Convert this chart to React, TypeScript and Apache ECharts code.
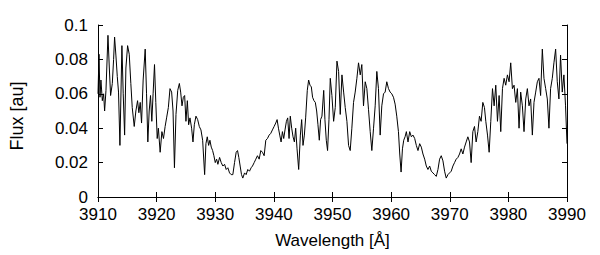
import React, { useEffect, useRef } from "react";
import * as echarts from "echarts";

const wavelength = [
  3910.0, 3910.17, 3910.34, 3910.5, 3910.74, 3910.96, 3911.13, 3911.36, 3911.7, 3911.93,
  3912.15, 3912.44, 3912.66, 3912.83, 3913.06, 3913.29, 3913.5, 3913.74, 3914.08, 3914.3,
  3914.54, 3914.76, 3915.05, 3915.33, 3915.6, 3915.84, 3916.18, 3916.46, 3916.75, 3916.97,
  3917.2, 3917.43, 3917.7, 3918.05, 3918.28, 3918.5, 3918.73, 3918.96, 3919.18, 3919.4,
  3919.64, 3919.86, 3920.1, 3920.3, 3920.6, 3920.9, 3921.17, 3921.45, 3921.7, 3922.0,
  3922.28, 3922.56, 3922.8, 3923.04, 3923.3, 3923.6, 3923.88, 3924.1, 3924.33, 3924.56,
  3924.78, 3925.0, 3925.24, 3925.46, 3925.69, 3925.97, 3926.2, 3926.43, 3926.71, 3927.0,
  3927.28, 3927.56, 3927.85, 3928.19, 3928.41, 3928.64, 3928.87, 3929.09, 3929.32, 3929.55,
  3929.77, 3930.0, 3930.23, 3930.45, 3930.74, 3931.02, 3931.3, 3931.59, 3931.87, 3932.15,
  3932.44, 3932.72, 3933.0, 3933.29, 3933.57, 3933.8, 3934.02, 3934.25, 3934.48, 3934.7,
  3935.0, 3935.27, 3935.55, 3935.84, 3936.12, 3936.35, 3936.64, 3936.92, 3937.2, 3937.49,
  3937.77, 3938.05, 3938.34, 3938.62, 3938.9, 3939.19, 3939.47, 3939.75, 3940.04, 3940.32,
  3940.55, 3940.78, 3941.0, 3941.23, 3941.46, 3941.68, 3941.9, 3942.14, 3942.36, 3942.59,
  3942.8, 3943.04, 3943.27, 3943.5, 3943.72, 3943.95, 3944.23, 3944.52, 3944.74, 3944.97,
  3945.2, 3945.42, 3945.7, 3945.93, 3946.16, 3946.39, 3946.6, 3946.84, 3947.07, 3947.3,
  3947.52, 3947.75, 3947.97, 3948.2, 3948.5, 3948.71, 3948.94, 3949.16, 3949.4, 3949.62,
  3949.9, 3950.19, 3950.47, 3950.76, 3951.04, 3951.32, 3951.61, 3951.9, 3952.17, 3952.46,
  3952.74, 3953.02, 3953.3, 3953.59, 3953.87, 3954.16, 3954.44, 3954.73, 3955.0, 3955.29,
  3955.58, 3955.86, 3956.14, 3956.43, 3956.71, 3957.0, 3957.28, 3957.56, 3957.84, 3958.13,
  3958.41, 3958.7, 3958.98, 3959.26, 3959.55, 3959.83, 3960.11, 3960.4, 3960.68, 3960.96,
  3961.25, 3961.47, 3961.7, 3961.93, 3962.15, 3962.38, 3962.6, 3962.88, 3963.17, 3963.45,
  3963.73, 3964.02, 3964.3, 3964.58, 3964.87, 3965.15, 3965.43, 3965.72, 3966.0, 3966.28,
  3966.57, 3966.85, 3967.13, 3967.42, 3967.7, 3967.99, 3968.27, 3968.55, 3968.84, 3969.12,
  3969.4, 3969.69, 3969.97, 3970.25, 3970.54, 3970.82, 3971.1, 3971.39, 3971.67, 3971.95,
  3972.24, 3972.52, 3972.8, 3973.09, 3973.37, 3973.65, 3973.94, 3974.22, 3974.5, 3974.79,
  3975.07, 3975.35, 3975.64, 3975.92, 3976.15, 3976.44, 3976.72, 3977.0, 3977.29, 3977.57,
  3977.85, 3978.14, 3978.42, 3978.7, 3978.99, 3979.27, 3979.55, 3979.84, 3980.12, 3980.4,
  3980.69, 3980.97, 3981.26, 3981.54, 3981.82, 3982.1, 3982.39, 3982.67, 3982.96, 3983.24,
  3983.52, 3983.8, 3984.09, 3984.37, 3984.66, 3984.94, 3985.22, 3985.5, 3985.79, 3986.07,
  3986.36, 3986.64, 3986.92, 3987.2, 3987.49, 3987.77, 3988.06, 3988.34, 3988.62, 3988.9,
  3989.19, 3989.47, 3989.75, 3990.0,
];

const flux = [
  0.06, 0.083, 0.058, 0.068, 0.056, 0.06, 0.05, 0.062, 0.094, 0.075,
  0.059, 0.066, 0.08, 0.093, 0.082, 0.07, 0.061, 0.03, 0.088, 0.06,
  0.036, 0.075, 0.088, 0.083, 0.066, 0.052, 0.041, 0.05, 0.056, 0.049,
  0.055, 0.043, 0.068, 0.086, 0.06, 0.032, 0.05, 0.059, 0.044, 0.06,
  0.077, 0.055, 0.034, 0.04, 0.026, 0.038, 0.034, 0.041, 0.046, 0.052,
  0.063, 0.061, 0.05, 0.017, 0.048, 0.062, 0.066, 0.061, 0.053, 0.058,
  0.059, 0.044, 0.056, 0.042, 0.046, 0.04, 0.032, 0.042, 0.047, 0.045,
  0.041, 0.039, 0.033, 0.013, 0.031, 0.035, 0.03, 0.033, 0.029, 0.027,
  0.024, 0.02, 0.022, 0.019, 0.023, 0.02, 0.018, 0.019, 0.016, 0.017,
  0.014, 0.013, 0.013, 0.02, 0.026, 0.027, 0.023, 0.018, 0.013, 0.011,
  0.014, 0.013, 0.016, 0.015, 0.017, 0.018, 0.02, 0.022, 0.024, 0.022,
  0.027, 0.026, 0.024, 0.033, 0.034, 0.036, 0.037, 0.039, 0.041, 0.043,
  0.045, 0.04, 0.036, 0.032, 0.038, 0.034, 0.039, 0.044, 0.046, 0.034,
  0.047, 0.04, 0.035, 0.032, 0.04, 0.028, 0.016, 0.036, 0.045, 0.03,
  0.036, 0.046, 0.062, 0.068, 0.065, 0.064, 0.058, 0.056, 0.055, 0.05,
  0.042, 0.033, 0.045, 0.047, 0.062, 0.045, 0.033, 0.027, 0.045, 0.069,
  0.059, 0.044, 0.052, 0.079, 0.073, 0.048, 0.071, 0.061, 0.052, 0.044,
  0.03, 0.027, 0.04, 0.055, 0.061, 0.069, 0.078, 0.071, 0.077, 0.053,
  0.067, 0.063, 0.051, 0.038, 0.027, 0.04, 0.053, 0.073, 0.063, 0.036,
  0.053, 0.06, 0.061, 0.067, 0.063, 0.061, 0.06, 0.058, 0.054, 0.047,
  0.038, 0.025, 0.0145, 0.028, 0.033, 0.035, 0.038, 0.032, 0.038, 0.035,
  0.036, 0.034, 0.03, 0.027, 0.031, 0.029, 0.025, 0.022, 0.018, 0.016,
  0.018, 0.015, 0.014, 0.013, 0.012, 0.016, 0.022, 0.024, 0.021, 0.015,
  0.011, 0.013, 0.014, 0.015, 0.018, 0.02, 0.022, 0.023, 0.025, 0.028,
  0.025, 0.029, 0.032, 0.035, 0.032, 0.02, 0.038, 0.041, 0.032, 0.038,
  0.047, 0.044, 0.055, 0.052, 0.044, 0.036, 0.026, 0.044, 0.063, 0.053,
  0.065, 0.044, 0.059, 0.038, 0.063, 0.069, 0.065, 0.071, 0.067, 0.078,
  0.063, 0.065, 0.055, 0.063, 0.04, 0.061, 0.053, 0.038, 0.057, 0.063,
  0.053, 0.057, 0.036, 0.055, 0.061, 0.067, 0.069, 0.059, 0.086, 0.069,
  0.063, 0.057, 0.04, 0.063, 0.069, 0.078, 0.086, 0.067, 0.057, 0.0825,
  0.061, 0.071, 0.053, 0.031,
];

const xMin = 3910;
const xMax = 3990;
const xStep = 10;
const yMin = 0;
const yMax = 0.1;
const yStep = 0.02;
const xTitle = "Wavelength [Å]";
const yTitle = "Flux [au]";

const FONT = "Liberation Sans";

export default function App() {
  const ref = useRef<HTMLDivElement>(null);
  useEffect(() => {
    if (!ref.current) return;
    const chart = echarts.init(ref.current, null, { renderer: "svg" });
    const data = wavelength.map((w, i) => [w, flux[i]]);
    const tickStyle = { show: true, inside: true, length: 5, lineStyle: { color: "#000", width: 1 } };
    const lineStyle = { show: true, lineStyle: { color: "#000", width: 1 } };
    chart.setOption({
      animation: false,
      backgroundColor: "#fff",
      grid: { left: 97, right: 33, top: 25, bottom: 58, containLabel: false },
      xAxis: [
        {
          type: "value",
          min: xMin,
          max: xMax,
          interval: xStep,
          position: "bottom",
          name: xTitle,
          nameLocation: "middle",
          nameGap: 35,
          nameTextStyle: { fontFamily: FONT, fontSize: 17, color: "#000" },
          axisLine: lineStyle,
          axisTick: tickStyle,
          axisLabel: {
            fontFamily: FONT,
            fontSize: 17,
            color: "#000",
            margin: 9,
            formatter: (v: number) => String(v),
          },
          splitLine: { show: false },
        },
        {
          type: "value",
          min: xMin,
          max: xMax,
          interval: xStep,
          position: "top",
          axisLine: lineStyle,
          axisTick: tickStyle,
          axisLabel: { show: false },
          splitLine: { show: false },
        },
      ],
      yAxis: [
        {
          type: "value",
          min: yMin,
          max: yMax,
          interval: yStep,
          position: "left",
          name: yTitle,
          nameLocation: "middle",
          nameGap: 72,
          nameTextStyle: { fontFamily: FONT, fontSize: 18, color: "#000", padding: [0, 0, 0, -10] },
          axisLine: lineStyle,
          axisTick: tickStyle,
          axisLabel: {
            fontFamily: FONT,
            fontSize: 17,
            color: "#000",
            margin: 10,
            formatter: (v: number) => String(v),
          },
          splitLine: { show: false },
        },
        {
          type: "value",
          min: yMin,
          max: yMax,
          interval: yStep,
          position: "right",
          axisLine: lineStyle,
          axisTick: tickStyle,
          axisLabel: { show: false },
          splitLine: { show: false },
        },
      ],
      series: [
        {
          type: "line",
          data,
          showSymbol: false,
          symbol: "none",
          lineStyle: { color: "#000", width: 1 },
          clip: true,
        },
      ],
    });
    return () => chart.dispose();
  }, []);
  return (
    <div
      ref={ref}
      style={{ position: "fixed", left: 0, top: 0, width: 600, height: 255, background: "#fff" }}
    />
  );
}
